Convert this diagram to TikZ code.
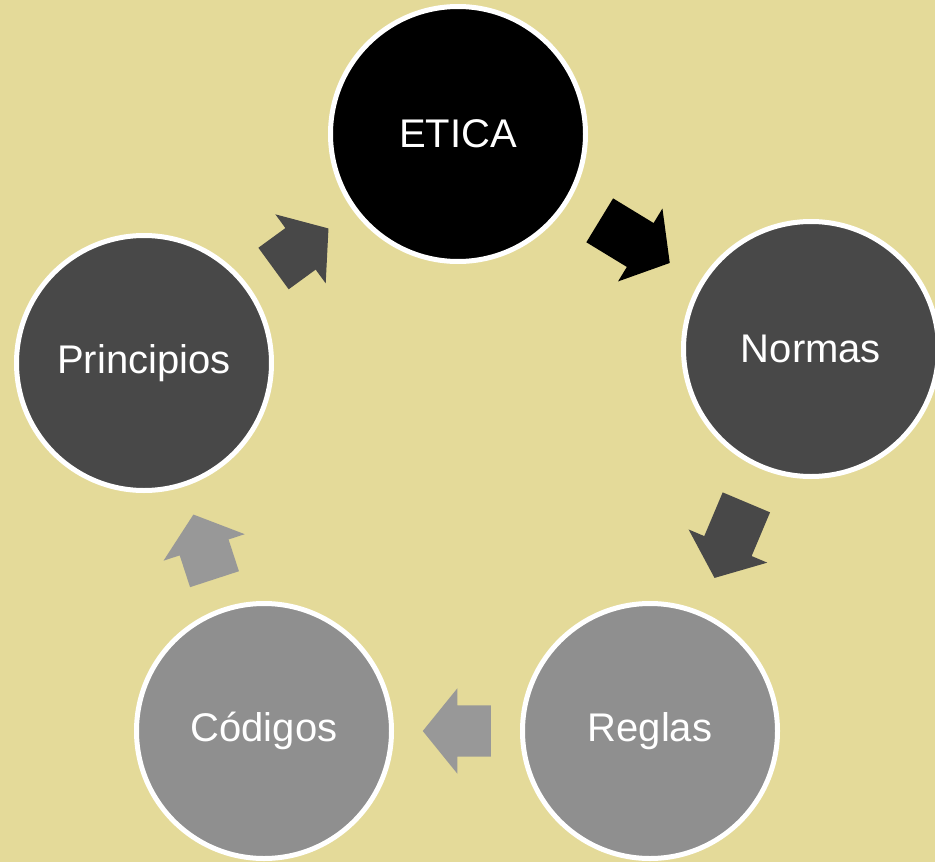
\documentclass[tikz,border=0pt]{standalone}
\usepackage{fontspec}
\setmainfont{Liberation Sans}
\usepackage{tikz}
\usetikzlibrary{shapes.arrows}
\definecolor{BackNC}{HTML}{E4DA99}
\definecolor{DarkNC}{HTML}{484848}
\definecolor{GreyNC}{HTML}{8F8F8F}
\definecolor{LightNC}{HTML}{989898}
\newcommand\nodeet{ETICA}
\newcommand\nodeno{Normas}
\newcommand\nodere{Reglas}
\newcommand\nodeco{Códigos}
\newcommand\nodepr{Principios}
\tikzstyle{mynodestyle} = [circle, minimum size=255pt, inner sep=0pt, draw=white, line width=5pt, text=white, font=\fontsize{40}{48}\selectfont]
\tikzstyle{cn} = [mynodestyle, fill=DarkNC]
\tikzstyle{blockarrow} = [single arrow, draw=none, single arrow head extend=17pt, single arrow tip angle=102, inner xsep=0pt, inner ysep=25.5pt, sloped, allow upside down, anchor=tail]

\begin{document}
\begin{tikzpicture}[x=1pt, y=-1pt]
\fill[BackNC] (0,0) rectangle (935,862);
\clip (0,0) rectangle (935,862);
\node[cn, fill=black] (et) at (458,134) {\nodeet};
\node[cn] (no) at (811,349) {\nodeno};
\node[cn, fill=GreyNC] (re) at (650,731) {\nodere};
\node[cn, fill=GreyNC] (co) at (264,731) {\nodeco};
\node[cn] (pr) at (144,363) {\nodepr};
\path (et.center) -- node[blockarrow, pos=0.401, fill=black, minimum height=82pt] (a1) {} (no.center);
\path (no.center) -- node[blockarrow, pos=0.401, fill=DarkNC, minimum height=82pt] (a2) {} (re.center);
\path (re.center) -- node[blockarrow, pos=0.412, fill=LightNC, minimum height=68pt] (a3) {} (co.center);
\path (co.center) -- node[blockarrow, pos=0.412, fill=LightNC, minimum height=68pt] (a4) {} (pr.center);
\path (pr.center) -- node[blockarrow, pos=0.412, fill=DarkNC, minimum height=68pt] (a5) {} (et.center);
\end{tikzpicture}
\end{document}
